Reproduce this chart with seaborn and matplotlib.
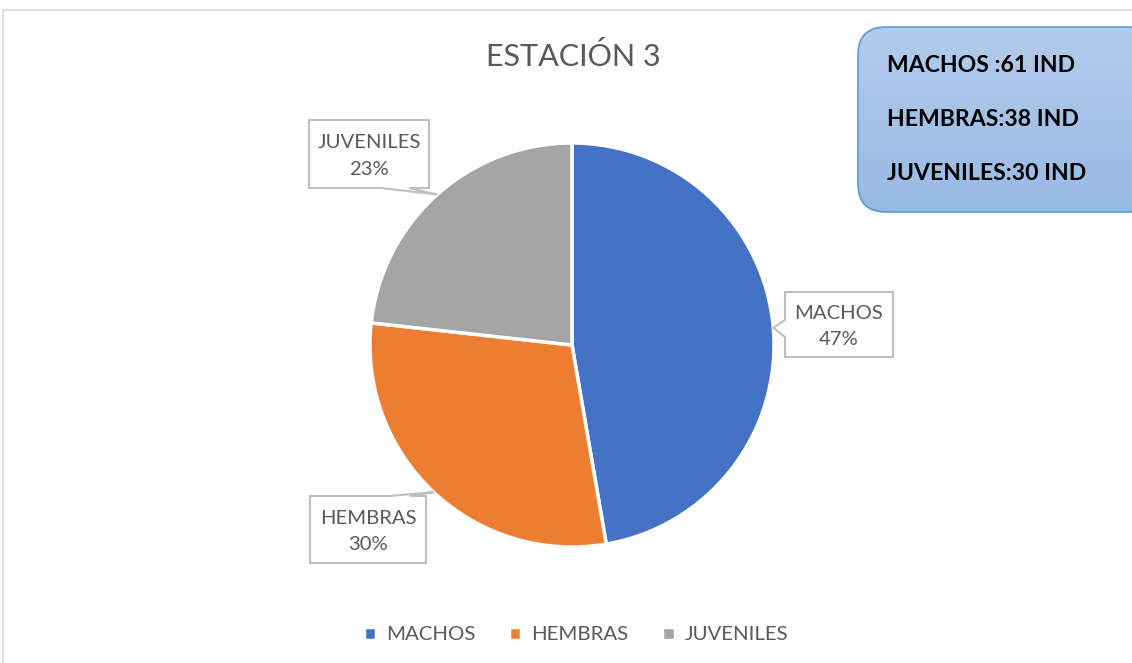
import numpy as np
import pandas as pd
import matplotlib
matplotlib.use('Agg')
import matplotlib.pyplot as plt
import seaborn as sns
from matplotlib.patches import FancyBboxPatch, Polygon, Rectangle

sns.set_theme(style='white')
plt.rcParams['font.family'] = ['Lato', 'DejaVu Sans']

## data
categorias = ['MACHOS', 'HEMBRAS', 'JUVENILES']
individuos = [61, 38, 30]
porcentajes = [47, 30, 23]  # as printed on the chart
colores = ['#4472C4', '#ED7D31', '#A5A5A5']
titulo = 'ESTACIÓN 3'

Data = pd.DataFrame({'Categoria': categorias, 'Ind': individuos, 'Pct': porcentajes})

W, H = 1132, 663
fig = plt.figure(figsize=(W / 100, H / 100), dpi=100)
ax = fig.add_axes([0, 0, 1, 1])
ax.set_xlim(0, W)
ax.set_ylim(0, H)
ax.set_aspect('equal')
ax.axis('off')

def Y(y):
    return H - y

# chart border
ax.add_patch(Rectangle((3, Y(670)), 1150, 660, fill=False, ec='#D9D9D9', lw=1.2))

cx, cy, r = 572, 345, 202
wedges, _ = ax.pie(Data['Ind'], colors=colores, startangle=90, counterclock=False,
                   center=(cx, Y(cy)), radius=r, frame=True,
                   wedgeprops=dict(edgecolor='white', linewidth=2.5))
ax.set_xlim(0, W)
ax.set_ylim(0, H)
ax.axis('off')

ax.text(W / 2 + 7, Y(57), titulo, ha='center', va='center', fontsize=22, color='#595959')

# callout boxes: (x0, y0, x1, y1) in pixels, side of tail
cajas = [(785, 292, 893, 357, 'left'),
         (310, 496, 426, 563, 'top'),
         (309, 120, 429, 188, 'bottom')]

for w, row, (x0, y0, x1, y1, side) in zip(wedges, Data.itertuples(), cajas):
    ang = np.deg2rad((w.theta1 + w.theta2) / 2)
    tx, ty = cx + r * np.cos(ang), cy - r * np.sin(ang)
    if side == 'left':
        pts = [(x0, y0), (x1, y0), (x1, y1), (x0, y1), (x0, y0 + 45), (tx, ty), (x0, y0 + 28)]
    elif side == 'top':
        pts = [(x0, y0), (x0 + 80, y0), (tx, ty), (x0 + 100, y0), (x1, y0), (x1, y1), (x0, y1)]
    else:
        pts = [(x0, y0), (x1, y0), (x1, y1), (x0 + 100, y1), (tx, ty), (x0 + 72, y1), (x0, y1)]
    ax.add_patch(Polygon([(px, Y(py)) for px, py in pts], closed=True, fc='white',
                         ec='#BFBFBF', lw=1.5, zorder=5))
    ax.text((x0 + x1) / 2, Y((y0 + y1) / 2 + 2), f'{row.Categoria}\n{row.Pct}%',
            ha='center', va='center', fontsize=14.6, color='#595959', linespacing=1.65, zorder=6)

# info box
caja = FancyBboxPatch((858, Y(212)), 300, 185, boxstyle='round,pad=0,rounding_size=28',
                      fc='none', ec='#5B9BD5', lw=1.2, zorder=7)
ax.add_patch(caja)
grad = np.linspace(0, 1, 100).reshape(-1, 1)
im = ax.imshow(grad, extent=(858, 1158, Y(212), Y(27)), origin='upper', aspect='auto',
               cmap=matplotlib.colors.LinearSegmentedColormap.from_list('g', ['#B3CCEB', '#97BAE4']),
               zorder=6)
im.set_clip_path(caja)
for i, (c, n) in enumerate(zip(categorias, individuos)):
    sep = ' :' if c == 'MACHOS' else ':'
    ax.text(887, Y(66 + i * 53.5), f'{c}{sep}{n} IND', ha='left', va='center',
            fontsize=16.6, fontweight='bold', color='black', zorder=8)
ax.set_xlim(0, W)
ax.set_ylim(0, H)

ax.legend(wedges, categorias, loc='center', bbox_to_anchor=(576 / W, 1 - 635 / H), ncol=3,
          frameon=False, fontsize=14.7, labelcolor='#595959', handlelength=0.6, handleheight=0.6,
          handletextpad=0.5, columnspacing=1.65)

fig.savefig('out.png', dpi=100)
